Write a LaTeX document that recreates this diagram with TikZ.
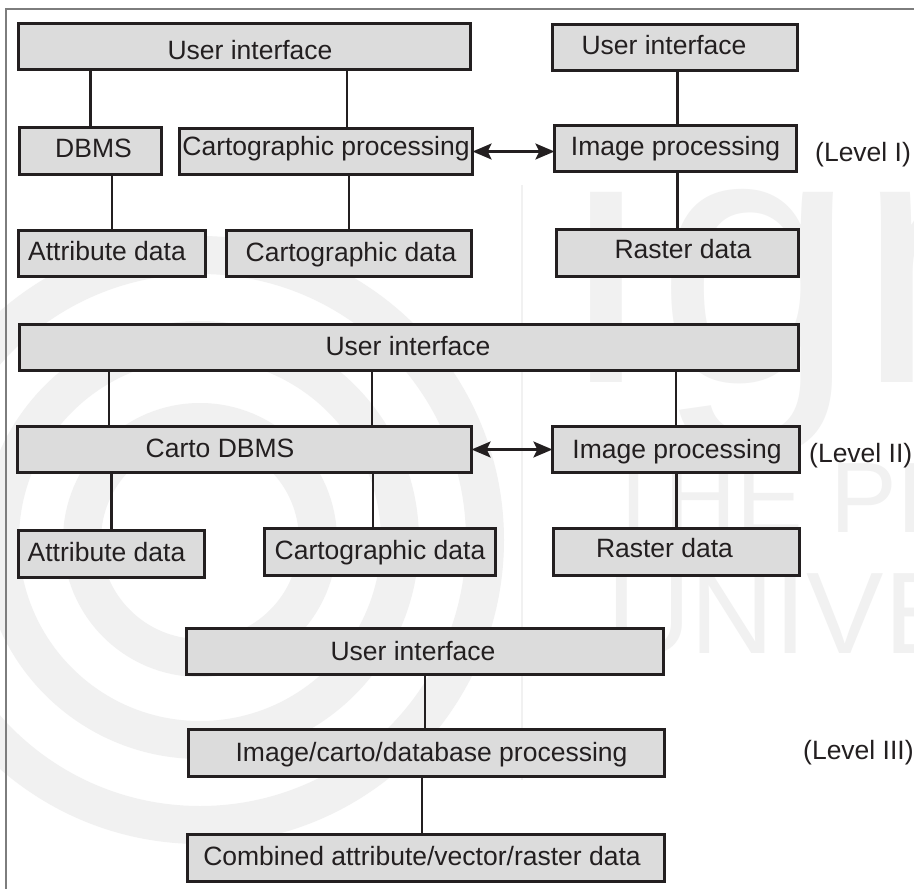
\documentclass[tikz,border=0pt]{standalone}
\usepackage{fontspec}
\setmainfont{Liberation Sans}
\usetikzlibrary{arrows.meta}

\definecolor{boxfill}{RGB}{220,220,220}
\definecolor{boxline}{RGB}{35,31,32}
\definecolor{framegray}{RGB}{125,125,125}
\definecolor{wmark}{RGB}{241,241,241}

% box given by its outer edges: name, x1, y1, x2, y2
\newcommand{\gisbox}[5]{%
  \node[gbox, minimum width={#4pt-#2pt-2.8pt}, minimum height={#5pt-#3pt-2.8pt}]
    (#1) at ({(#2+#4)/2},{(#3+#5)/2}) {};}

\begin{document}
\begin{tikzpicture}[x=1pt, y=-1pt,
  font=\fontsize{26.5}{30}\selectfont,
  gbox/.style={draw=boxline, fill=boxfill, line width=2.8pt, inner sep=0pt, outer sep=0pt},
  lbl/.style={anchor=base, inner sep=0pt, text=boxline},
  lvl/.style={anchor=base west, inner sep=0pt, text=boxline},
  link/.style={draw=boxline, line width=2.2pt},
  tip/.tip={Stealth[length=19pt, width=16pt, inset=4pt]},
  dual/.style={link, tip-tip},
  wmtext/.style={inner sep=0pt, text=wmark, anchor=base west},
  wmring/.style={draw=wmark, line width=38pt}]

\useasboundingbox (0,0) rectangle (914,889);
\fill[white] (0,0) rectangle (914,889);

% faint background emblem
\begin{scope}
  \clip (0,0) rectangle (914,889);
  \draw[wmring] (200,540) circle (285);
  \draw[wmring] (200,540) circle (200);
  \draw[wmring] (200,540) circle (118);
  \draw[draw=wmark, line width=1.5pt] (522,185) -- (522,780);
  \node[wmtext, font=\fontsize{360}{360}\selectfont] (wm-ign) at (556,382) {ıgn};
  \node[wmtext, font=\fontsize{100}{100}\selectfont] (wm-the) at (603,532) {THE PEOPLE'S};
  \node[wmtext, font=\fontsize{116}{116}\selectfont] (wm-univ) at (607,653) {UNIVERSITY};
\end{scope}

% frame
\draw[framegray, line width=1.5pt] (6,889) -- (6,9) -- (914,9);

% ---------- Level I ----------
\gisbox{ui1}{17}{22}{472}{71}
\gisbox{uir}{551}{23}{799}{72}
\gisbox{dbms}{18}{126}{163}{176}
\gisbox{cproc}{178}{127}{474}{176}
\gisbox{ip1}{553}{124}{798}{173}
\gisbox{attr1}{17}{229}{207}{278}
\gisbox{cdata1}{225}{229}{473}{278}
\gisbox{raster1}{555}{228}{800}{278}

\node[lbl] (t-ui1) at (250,59) {User interface};
\node[lbl] (t-uir) at (664,54) {User interface};
\node[lbl] (t-dbms) at (93.5,157) {DBMS};
\node[lbl] (t-cproc) at (326,155) {Cartographic processing};
\node[lbl] (t-ip1) at (675.5,155) {Image processing};
\node[lbl] (t-attr1) at (107,260) {Attribute data};
\node[lbl] (t-cdata1) at (351,261) {Cartographic data};
\node[lbl] (t-raster1) at (683,258) {Raster data};
\node[lvl] (lvl1) at (815,161) {(Level I)};

\draw[link] (dbms.north) -- (dbms.north |- ui1.south);
\draw[link] ([xshift=21pt]cproc.north) -- ([xshift=21pt]cproc.north |- ui1.south);
\draw[link] (attr1.north) -- (attr1.north |- dbms.south);
\draw[link] (cdata1.north) -- (cdata1.north |- cproc.south);
\draw[link] (uir.south -| raster1.north) -- (ip1.north -| raster1.north);
\draw[link] (raster1.north) -- (raster1.north |- ip1.south);
\draw[dual] (cproc.east) -- (cproc.east -| ip1.west);

% ---------- Level II ----------
\gisbox{ui2}{18}{323}{800}{372}
\gisbox{cdbms}{16}{425}{473}{474}
\gisbox{ip2}{551}{425}{801}{474}
\gisbox{attr2}{17}{529}{206}{579}
\gisbox{cdata2}{263}{527}{497}{577}
\gisbox{raster2}{552}{527}{801}{577}

\node[lbl] (t-ui2) at (408,355) {User interface};
\node[lbl] (t-cdbms) at (220,457.5) {Carto DBMS};
\node[lbl] (t-ip2) at (677,458) {Image processing};
\node[lbl] (t-attr2) at (106.5,561.5) {Attribute data};
\node[lbl] (t-cdata2) at (380,559) {Cartographic data};
\node[lbl] (t-raster2) at (664.5,557) {Raster data};
\node[lvl] (lvl2) at (809,462) {(Level II)};

\draw[link] ([xshift=-135.5pt]cdbms.north) -- ([xshift=-135.5pt]cdbms.north |- ui2.south);
\draw[link] ([xshift=127.5pt]cdbms.north) -- ([xshift=127.5pt]cdbms.north |- ui2.south);
\draw[link] (attr2.north) -- (attr2.north |- cdbms.south);
\draw[link] ([xshift=-7pt]cdata2.north) -- ([xshift=-7pt]cdata2.north |- cdbms.south);
\draw[link] (ip2.north) -- (ip2.north |- ui2.south);
\draw[link] (raster2.north) -- (raster2.north |- ip2.south);
\draw[dual] (cdbms.east) -- (cdbms.east -| ip2.west);

% ---------- Level III ----------
\gisbox{ui3}{185}{627}{665}{676}
\gisbox{ip3}{187}{728}{666}{778}
\gisbox{comb}{186}{833}{666}{883}

\node[lbl] (t-ui3) at (413,660) {User interface};
\node[lbl] (t-ip3) at (431.5,761.5) {Image/carto/database processing};
\node[lbl] (t-comb) at (422,865.5) {Combined attribute/vector/raster data};
\node[lvl] (lvl3) at (803,759) {(Level III)};

\draw[link] (ui3.south) -- (ui3.south |- ip3.north);
\draw[link] ([xshift=-4pt]comb.north) -- ([xshift=-4pt]comb.north |- ip3.south);

\end{tikzpicture}
\end{document}
